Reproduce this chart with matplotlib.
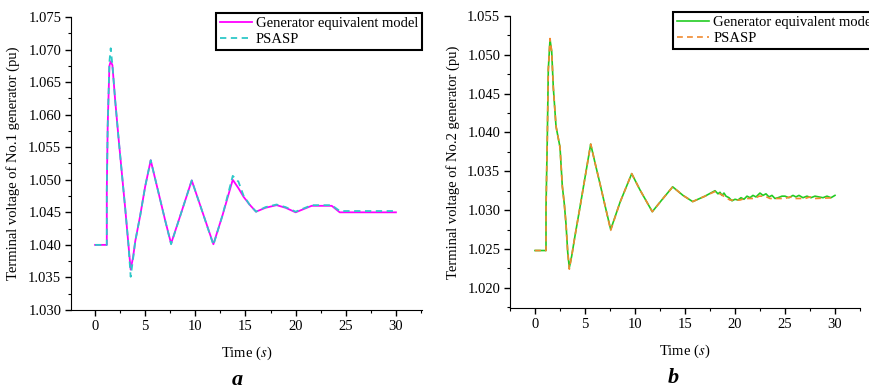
import matplotlib
matplotlib.use('Agg')
import matplotlib.pyplot as plt
from matplotlib.ticker import MultipleLocator, FormatStrFormatter

plt.rcParams['font.family'] = ['Liberation Serif', 'DejaVu Serif']
plt.rcParams['mathtext.fontset'] = 'stix'

# ---- panel a: No.1 generator ----
t_a = [0, 1.17, 1.17, 1.26, 1.43, 1.56, 1.73, 2.0, 2.33, 2.66, 3.0, 3.33, 3.55,
       3.8, 4.0, 4.5, 5.0, 5.55, 6.0, 6.5, 7.0, 7.58, 8.5, 9.64, 10.5, 11.8,
       12.7, 13.73, 14.3, 14.8, 15.4, 16.05, 17.0, 18.1, 19.0, 20.0, 21.6,
       23.6, 24.4, 30.0]
gen_a = [1.0400, 1.0400, 1.0484, 1.0583, 1.0675, 1.0682, 1.0676, 1.0623, 1.0566,
         1.0512, 1.0457, 1.0400, 1.0362, 1.0382, 1.0405, 1.0445, 1.0490, 1.0530,
         1.0501, 1.0469, 1.0437, 1.0402, 1.0445, 1.0499, 1.0460, 1.0401, 1.0445,
         1.0500, 1.0487, 1.0474, 1.0462, 1.0451, 1.0457, 1.0461, 1.0457, 1.0450,
         1.0460, 1.0460, 1.0450, 1.0450]
psasp_a = [1.0400, 1.0400, 1.0484, 1.0583, 1.0681, 1.0702, 1.0676, 1.0623, 1.0566,
           1.0512, 1.0457, 1.0400, 1.0351, 1.0380, 1.0405, 1.0445, 1.0490, 1.0530,
           1.0501, 1.0469, 1.0437, 1.0401, 1.0445, 1.0499, 1.0460, 1.0400, 1.0445,
           1.0506, 1.0497, 1.0476, 1.0462, 1.0451, 1.0458, 1.0462, 1.0458, 1.0451,
           1.0461, 1.0461, 1.0452, 1.0452]

# ---- panel b: No.2 generator ----
t_b = [0, 1.1, 1.1, 1.23, 1.33, 1.5, 1.67, 1.83, 2.1, 2.5, 2.73, 2.93, 3.1, 3.27,
       3.43, 3.67, 4.0, 4.5, 5.0, 5.57, 6.0, 6.5, 7.0, 7.57, 8.5, 9.67, 10.5,
       11.73, 12.8, 13.77, 14.8, 15.77, 17.0, 18.0, 18.3, 18.5, 18.7, 18.9, 19.1,
       19.4, 19.7, 20.0, 20.3, 20.6, 20.9, 21.2, 21.5, 21.8, 22.1, 22.5, 22.8,
       23.1, 23.4, 23.7, 24.0, 24.3, 24.7, 25.0, 25.4, 25.8, 26.1, 26.4, 26.8,
       27.2, 27.6, 28.0, 28.4, 28.8, 29.2, 29.6, 30.0]
gen_b = [1.0248, 1.0248, 1.0303, 1.0393, 1.0481, 1.0520, 1.0504, 1.0458, 1.0408,
         1.0381, 1.0331, 1.0308, 1.0282, 1.0246, 1.0226, 1.0241, 1.0267, 1.0304,
         1.0342, 1.0385, 1.0361, 1.0334, 1.0306, 1.0275, 1.0310, 1.0347, 1.0326,
         1.0298, 1.0315, 1.0330, 1.0319, 1.0311, 1.0318, 1.0325, 1.0321, 1.0323,
         1.0319, 1.0322, 1.0318, 1.0316, 1.0312, 1.0314, 1.0313, 1.0316, 1.0314,
         1.0318, 1.0316, 1.0319, 1.0317, 1.0322, 1.0319, 1.0321, 1.0317, 1.0319,
         1.0315, 1.0316, 1.0318, 1.0318, 1.0316, 1.0319, 1.0317, 1.0319, 1.0316,
         1.0318, 1.0316, 1.0318, 1.0317, 1.0316, 1.0318, 1.0316, 1.0319]
t_b_psasp = [0, 1.1, 1.1, 1.23, 1.33, 1.5, 1.67, 1.83, 2.1, 2.5, 2.73, 2.93, 3.1,
             3.27, 3.43, 3.67, 4.0, 4.5, 5.0, 5.57, 6.0, 6.5, 7.0, 7.57, 8.5,
             9.67, 10.5, 11.73, 12.8, 13.77, 14.8, 15.77, 17.0, 18.0, 18.5, 19.0,
             19.5, 20.5, 21.0, 22.0, 22.4, 23.0, 23.5, 25.0, 25.5, 26.0, 27.0,
             27.5, 28.0, 30.0]
psasp_b = [1.0248, 1.0248, 1.0303, 1.0393, 1.0481, 1.0521, 1.0504, 1.0458, 1.0408,
           1.0381, 1.0331, 1.0308, 1.0282, 1.0246, 1.0224, 1.0241, 1.0267, 1.0304,
           1.0342, 1.0385, 1.0361, 1.0334, 1.0306, 1.0274, 1.0310, 1.0347, 1.0326,
           1.0298, 1.0315, 1.0330, 1.0319, 1.0311, 1.0318, 1.0324, 1.0321, 1.0317,
           1.0313, 1.0313, 1.0315, 1.0315, 1.0318, 1.0318, 1.0315, 1.0315, 1.0317,
           1.0315, 1.0315, 1.0317, 1.0315, 1.0316]

fig = plt.figure(figsize=(8.69, 3.91), dpi=100)
ax1 = fig.add_axes([0.0817, 0.2072, 0.4039, 0.7493])
ax2 = fig.add_axes([0.5869, 0.2123, 0.4027, 0.7468])

ax1.plot(t_a, gen_a, color='#FF00FF', lw=1.3, label='Generator equivalent model')
ax1.plot(t_a, psasp_a, color='#2EC8C8', lw=1.3, ls=(0, (3.5, 2.5)), label='PSASP')
ax2.plot(t_b, gen_b, color='#22CC22', lw=1.2, label='Generator equivalent model')
ax2.plot(t_b_psasp, psasp_b, color='#F08A30', lw=1.2, ls=(0, (3.5, 2.5)), label='PSASP')

ax1.set_xlim(-2.4, 32.6)
ax1.set_ylim(1.030, 1.075)
ax1.yaxis.set_major_locator(MultipleLocator(0.005))
ax1.yaxis.set_minor_locator(MultipleLocator(0.0025))
ax1.set_ylabel('Terminal voltage of No.1 generator (pu)', fontsize=10.5)
ax1.yaxis.set_label_coords(-0.145, 0.5)

ax2.set_xlim(-2.5, 32.5)
ax2.set_ylim(1.0174, 1.055)
ax2.yaxis.set_major_locator(MultipleLocator(0.005))
ax2.yaxis.set_minor_locator(MultipleLocator(0.0025))
ax2.set_ylabel('Terminal voltage of No.2 generator (pu)', fontsize=10.5)
ax2.yaxis.set_label_coords(-0.143, 0.5)

for ax in (ax1, ax2):
    ax.spines['top'].set_visible(False)
    ax.spines['right'].set_visible(False)
    ax.xaxis.set_major_locator(MultipleLocator(5))
    ax.xaxis.set_minor_locator(MultipleLocator(2.5))
    ax.yaxis.set_major_formatter(FormatStrFormatter('%.3f'))
    ax.tick_params(which='major', direction='out', length=4, width=1, labelsize=10.5, pad=3)
    ax.tick_params(which='minor', direction='out', length=2.5, width=0.8)
    ax.set_xlabel('Time ($\\it{s}$)', fontsize=10.5)
    ax.xaxis.set_label_coords(0.5, -0.12)

leg_kw = dict(fontsize=10.5, frameon=True, fancybox=False, framealpha=1,
              edgecolor='black', handlelength=2.2, handletextpad=0.3,
              borderpad=0.25, labelspacing=0.2, borderaxespad=0)
l1 = ax1.legend(loc='upper right', bbox_to_anchor=(1.0, 1.014), **leg_kw)
l2 = ax2.legend(loc='upper left', bbox_to_anchor=(0.466, 1.014), **leg_kw)
for lg in (l1, l2):
    lg.get_frame().set_linewidth(1.5)

fig.text(0.273, 0.028, 'a', fontsize=16, fontstyle='italic', fontweight='bold', ha='center', va='center')
fig.text(0.775, 0.033, 'b', fontsize=16, fontstyle='italic', fontweight='bold', ha='center', va='center')

fig.savefig('out.png', dpi=100)
